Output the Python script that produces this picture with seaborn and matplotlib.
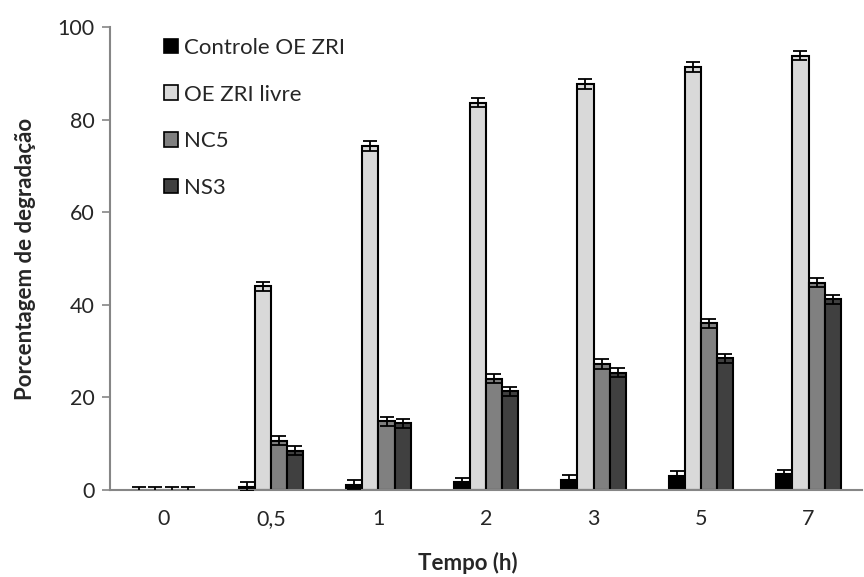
import matplotlib
matplotlib.use("Agg")
import matplotlib.pyplot as plt
import seaborn as sns
import pandas as pd
import numpy as np
from matplotlib.patches import Patch

# ---- data ----
tempos = ["0", "0,5", "1", "2", "3", "5", "7"]
series = ["Controle OE ZRI", "OE ZRI livre", "NC5", "NS3"]
controle = [0.0, 0.7, 1.1, 1.6, 2.2, 3.1, 3.4]
livre = [0.0, 44.0, 74.3, 83.7, 87.7, 91.4, 93.8]
nc5 = [0.0, 10.6, 14.8, 24.0, 27.2, 36.0, 44.8]
ns3 = [0.0, 8.5, 14.4, 21.3, 25.3, 28.4, 41.2]
err_controle = [0.7, 0.9, 1.0, 1.0, 1.0, 1.0, 1.0]
err_livre = [0.7, 1.0, 1.0, 1.0, 1.0, 1.0, 1.0]
err_nc5 = [0.7, 1.0, 1.0, 1.0, 1.0, 1.0, 1.0]
err_ns3 = [0.7, 1.0, 1.0, 1.0, 1.0, 1.0, 1.0]
colors = ["#000000", "#D9D9D9", "#808080", "#404040"]

values = [controle, livre, nc5, ns3]
errors = [err_controle, err_livre, err_nc5, err_ns3]

df = pd.DataFrame({
    "Tempo": np.tile(tempos, len(series)),
    "Serie": np.repeat(series, len(tempos)),
    "Valor": np.concatenate(values),
})

sns.set_style("white")
plt.rcParams["font.family"] = ["Lato", "DejaVu Sans"]

fig = plt.figure(figsize=(8.64, 5.77), dpi=100)
ax = fig.add_axes([0.127, 0.151, 0.871, 0.802])

sns.barplot(data=df, x="Tempo", y="Valor", hue="Serie", order=tempos,
            hue_order=series, palette=colors, width=0.6, errorbar=None,
            edgecolor="black", linewidth=1.5, saturation=1, ax=ax, legend=False)

for cont, errs in zip(ax.containers, errors):
    xs = [b.get_x() + b.get_width() / 2 for b in cont]
    ys = [b.get_height() for b in cont]
    ax.errorbar(xs, ys, yerr=errs, fmt="none", ecolor="black",
                elinewidth=1.3, capsize=5, capthick=1.3, zorder=5)

ax.set_ylim(0, 100)
ax.set_yticks([0, 20, 40, 60, 80, 100])
ax.set_xlim(-0.5, 6.5)
ax.tick_params(axis="y", direction="out", length=6, color="#868686",
               width=1.2, labelsize=15.5, pad=5, left=True)
ax.tick_params(axis="x", length=0, labelsize=15.5, pad=14)
for s in ["top", "right"]:
    ax.spines[s].set_visible(False)
for s in ["left", "bottom"]:
    ax.spines[s].set_color("#868686")
    ax.spines[s].set_linewidth(1.5)

ax.set_xlabel("Tempo (h)", fontsize=16, fontweight="bold")
ax.set_ylabel("Porcentagem de degradação", fontsize=16, fontweight="bold")
ax.xaxis.set_label_coords(0.476, -0.134)
ax.yaxis.set_label_coords(-0.098, 0.5)

handles = [Patch(facecolor=c, edgecolor="black", linewidth=1.2) for c in colors]
ax.legend(handles, series, loc="upper left", bbox_to_anchor=(0.045, 1.02),
          frameon=False, fontsize=16, handlelength=0.65, handleheight=0.65,
          handletextpad=0.25, labelspacing=1.2)

fig.savefig("out.png", dpi=100)
